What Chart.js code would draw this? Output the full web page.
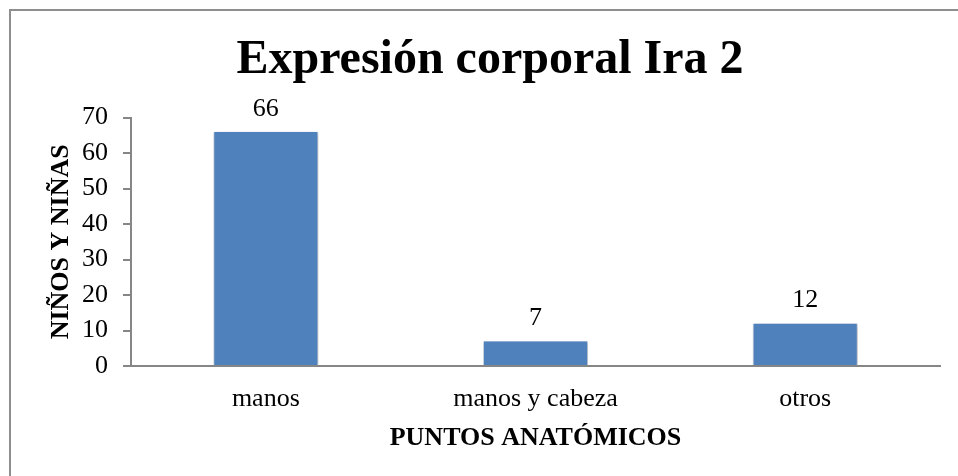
<!DOCTYPE html>
<html>
<head>
<meta charset="utf-8">
<script src="https://cdn.jsdelivr.net/npm/chart.js@4.4.0/dist/chart.umd.min.js"></script>
<style>
  html, body { margin: 0; padding: 0; background: #fff; overflow: hidden; }
  #frame { position: absolute; left: 9px; top: 9px; width: 2000px; height: 2000px; border: 2px solid #8e8e8e; }
  #wrap { position: absolute; left: 0; top: 0; width: 958px; height: 476px; }
</style>
</head>
<body>
<div id="frame"></div>
<div id="wrap"><canvas id="chart"></canvas></div>
<script>
// chart data
const categories = ['manos', 'manos y cabeza', 'otros'];
const values = [66, 7, 12];
const yTicks = [0, 10, 20, 30, 40, 50, 60, 70];

const serif = "'Liberation Serif', 'Times New Roman', serif";
const axisGray = '#868686';

// value labels above each bar
const barLabels = {
  id: 'barLabels',
  afterDatasetsDraw(chart) {
    const ctx = chart.ctx;
    const meta = chart.getDatasetMeta(0);
    ctx.save();
    ctx.font = '26px ' + serif;
    ctx.fillStyle = '#000';
    ctx.textAlign = 'center';
    ctx.textBaseline = 'middle';
    meta.data.forEach((bar, i) => {
      ctx.fillText(String(values[i]), bar.x, bar.y - 23);
    });
    ctx.restore();
  }
};

// soft shadow behind bars
const barShadow = {
  id: 'barShadow',
  beforeDatasetDraw(chart) {
    const ctx = chart.ctx;
    ctx.save();
    ctx.shadowColor = 'rgba(0, 0, 0, 0.3)';
    ctx.shadowBlur = 4;
    ctx.shadowOffsetX = 1;
    ctx.shadowOffsetY = 1;
  },
  afterDatasetDraw(chart) {
    chart.ctx.restore();
  }
};

new Chart(document.getElementById('chart'), {
  type: 'bar',
  data: {
    labels: categories,
    datasets: [{
      data: values,
      backgroundColor: '#4F81BD',
      borderColor: '#dfe8f3',
      borderWidth: { left: 1, right: 1, top: 0, bottom: 0 },
      categoryPercentage: 1,
      barPercentage: 0.39
    }]
  },
  options: {
    responsive: true,
    maintainAspectRatio: false,
    animation: false,
    layout: { padding: { left: 40, right: 18, top: 0, bottom: 10 } },
    plugins: {
      legend: { display: false },
      tooltip: { enabled: false },
      title: {
        display: true,
        text: 'Expresión corporal Ira 2',
        color: '#000',
        font: { family: serif, size: 48, weight: 'bold' },
        padding: { top: 32, bottom: 28 }
      }
    },
    scales: {
      x: {
        grid: { display: false, drawTicks: false },
        border: { display: true, color: axisGray, width: 2 },
        ticks: { color: '#000', font: { family: serif, size: 26 }, padding: 18 },
        title: {
          display: true,
          text: 'PUNTOS ANATÓMICOS',
          color: '#000',
          font: { family: serif, size: 26, weight: 'bold' },
          padding: { top: 0, bottom: 12 }
        },
        afterFit(scale) { scale.height = 100; }
      },
      y: {
        min: 0,
        max: 70,
        afterBuildTicks(scale) { scale.ticks = yTicks.map(v => ({ value: v })); },
        grid: { drawOnChartArea: false, color: axisGray, lineWidth: 2, tickLength: 8 },
        border: { display: true, color: axisGray, width: 2 },
        ticks: { color: '#000', font: { family: serif, size: 26 }, padding: 15 },
        title: {
          display: true,
          text: 'NIÑOS Y NIÑAS',
          color: '#000',
          font: { family: serif, size: 26, weight: 'bold' },
          padding: { top: 6, bottom: 0 }
        },
        afterFit(scale) { scale.width = 91; }
      }
    }
  },
  plugins: [barShadow, barLabels]
});
</script>
</body>
</html>
